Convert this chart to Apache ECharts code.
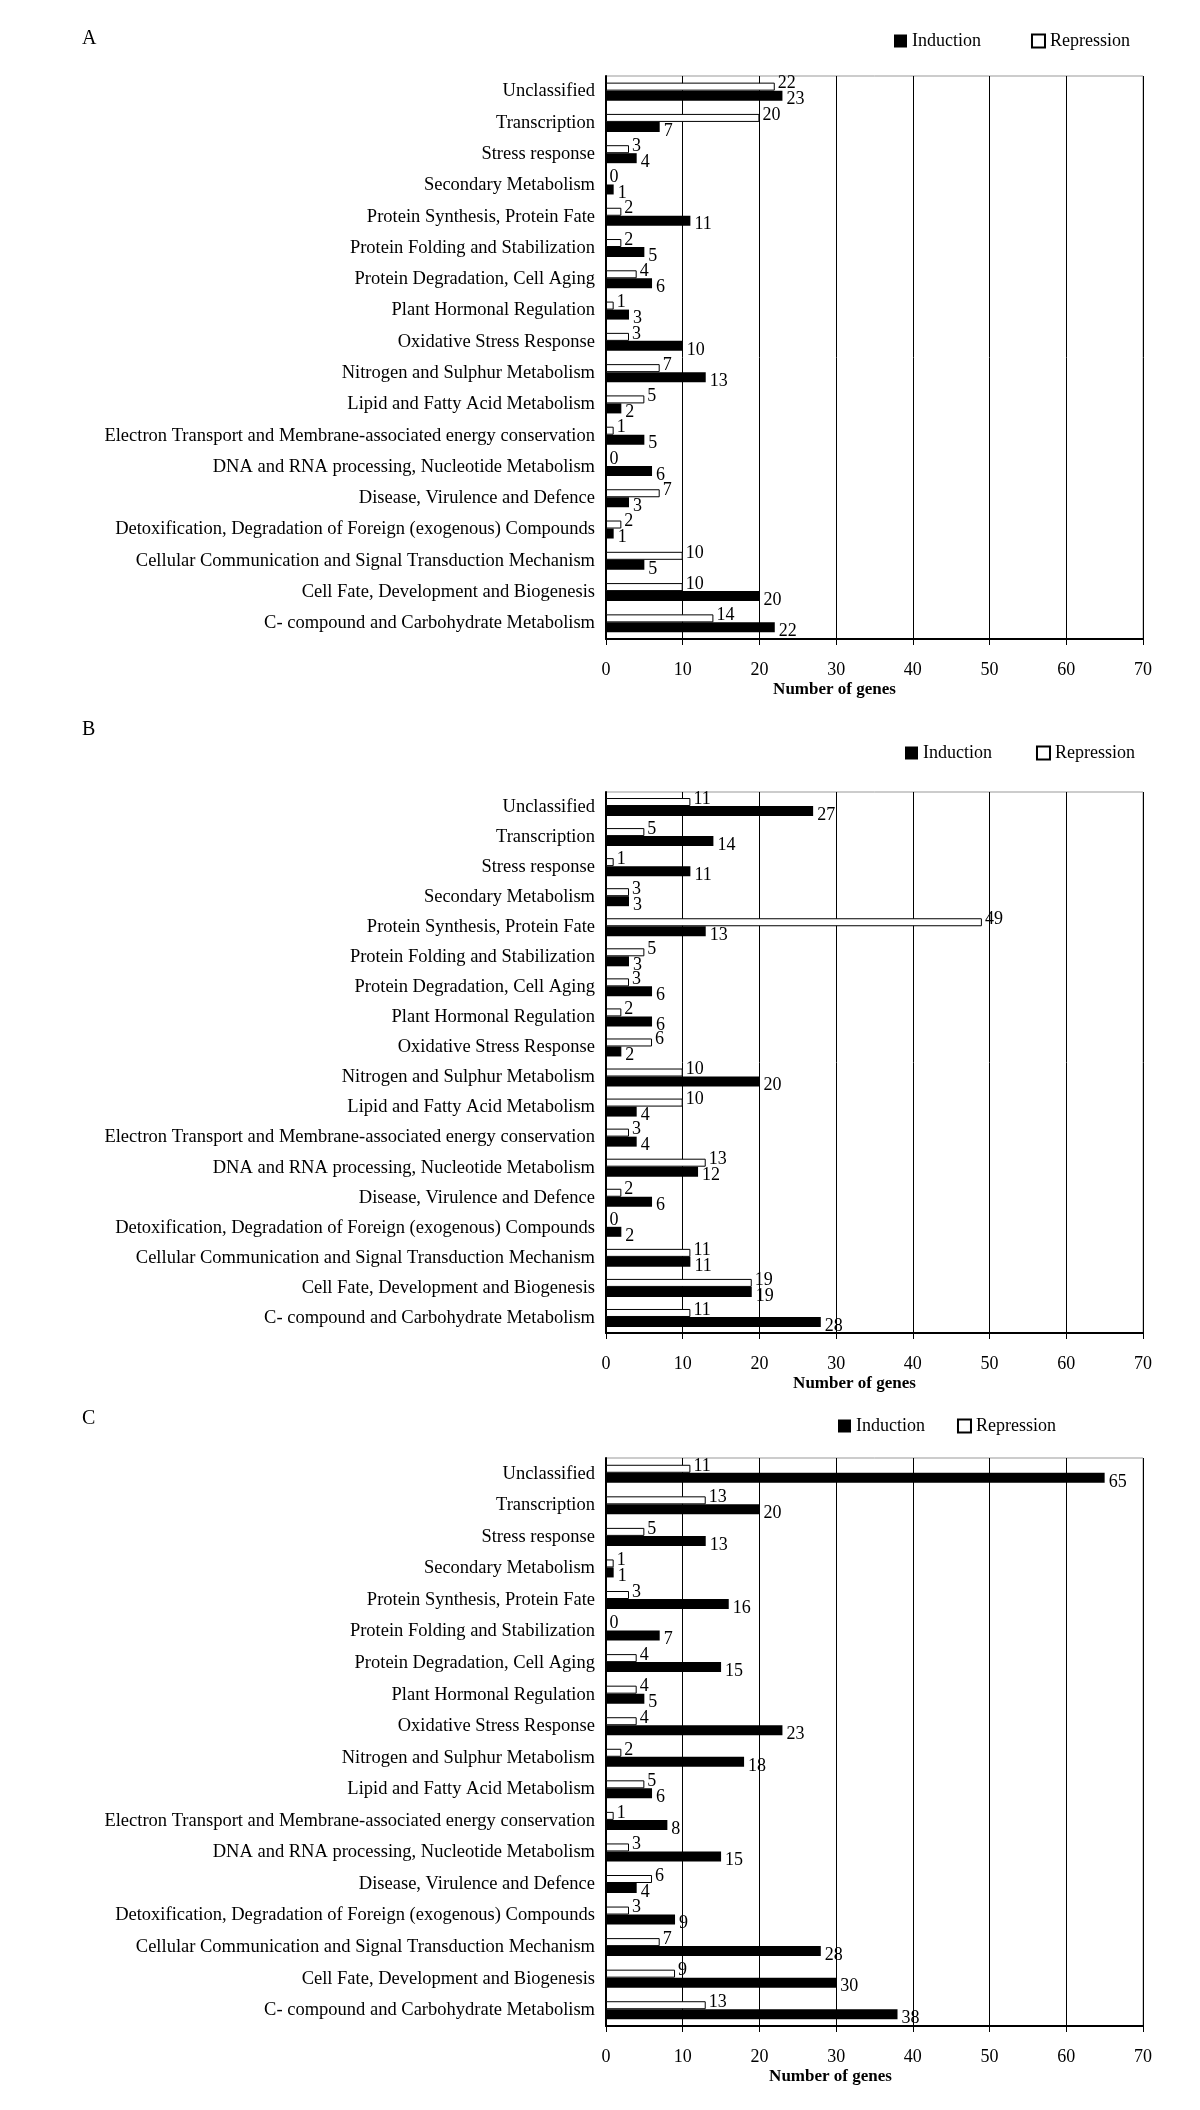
<!DOCTYPE html>
<html lang="en">
  <head>
    <meta charset="UTF-8" />
    <title>Number of genes by functional category</title>
    <script src="https://cdn.jsdelivr.net/npm/echarts@6/dist/echarts.min.js"></script>
    <style>
      * {
        margin: 0;
        padding: 0;
      }
      body {
        background: #fff;
      }
      #chart {
        width: 1200px;
        height: 2110px;
      }
    </style>
  </head>
  <body>
    <div id="chart"></div>
    <script>
      // categories, top to bottom as in the figure
      const categories = [
        "Unclassified",
        "Transcription",
        "Stress response",
        "Secondary Metabolism",
        "Protein Synthesis, Protein Fate",
        "Protein Folding and Stabilization",
        "Protein Degradation, Cell Aging",
        "Plant Hormonal Regulation",
        "Oxidative Stress Response",
        "Nitrogen and Sulphur Metabolism",
        "Lipid and Fatty Acid Metabolism",
        "Electron Transport and Membrane-associated energy conservation",
        "DNA and RNA processing, Nucleotide Metabolism",
        "Disease, Virulence and Defence",
        "Detoxification, Degradation of Foreign (exogenous) Compounds",
        "Cellular Communication and Signal Transduction Mechanism",
        "Cell Fate, Development and Biogenesis",
        "C- compound and Carbohydrate Metabolism",
      ];

      const inductionA = [23, 7, 4, 1, 11, 5, 6, 3, 10, 13, 2, 5, 6, 3, 1, 5, 20, 22];
      const repressionA = [22, 20, 3, 0, 2, 2, 4, 1, 3, 7, 5, 1, 0, 7, 2, 10, 10, 14];

      const inductionB = [27, 14, 11, 3, 13, 3, 6, 6, 2, 20, 4, 4, 12, 6, 2, 11, 19, 28];
      const repressionB = [11, 5, 1, 3, 49, 5, 3, 2, 6, 10, 10, 3, 13, 2, 0, 11, 19, 11];

      const inductionC = [65, 20, 13, 1, 16, 7, 15, 5, 23, 18, 6, 8, 15, 4, 9, 28, 30, 38];
      const repressionC = [11, 13, 5, 1, 3, 0, 4, 4, 4, 2, 5, 1, 3, 6, 3, 7, 9, 13];

      const panelNames = ["A", "B", "C"];
      const xTicks = [0, 70, 10]; // min, max, interval

      const FONT = "Liberation Serif";

      // panel layout: grid box, legend spot, letter spot, axis-name shift
      const panels = [
        { top: 76, height: 563, letterTop: 29, legendLeft: 894, legendTop: 32, legendGap: 50, nameShift: 80 },
        { top: 792, height: 541, letterTop: 720, legendLeft: 905, legendTop: 744, legendGap: 44, nameShift: 40 },
        { top: 1458, height: 568, letterTop: 1409, legendLeft: 838, legendTop: 1417, legendGap: 32, nameShift: 88 },
      ];
      const data = [
        [inductionA, repressionA],
        [inductionB, repressionB],
        [inductionC, repressionC],
      ];

      const chart = echarts.init(document.getElementById("chart"));

      const option = {
        animation: false,
        backgroundColor: "#fff",
        title: panels.map((p, i) => ({
          text: panelNames[i],
          left: 82,
          top: p.letterTop,
          padding: 0,
          textStyle: { fontFamily: FONT, fontSize: 20, fontWeight: "normal", color: "#000" },
        })),
        legend: panels.map((p) => ({
          data: ["Induction", "Repression"],
          left: p.legendLeft,
          top: p.legendTop,
          itemGap: p.legendGap,
          itemWidth: 13,
          itemHeight: 13,
          padding: 0,
          icon: "rect",
          textStyle: { fontFamily: FONT, fontSize: 18, color: "#000" },
        })),
        grid: panels.map((p) => ({
          left: 606,
          right: 57,
          top: p.top,
          height: p.height,
          show: true,
          borderColor: "#999",
          borderWidth: 1,
        })),
        xAxis: panels.map((p, i) => ({
          type: "value",
          gridIndex: i,
          min: xTicks[0],
          max: xTicks[1],
          interval: xTicks[2],
          name: "Number of genes",
          nameLocation: "middle",
          nameGap: 42,
          nameTextStyle: {
            fontFamily: FONT,
            fontSize: 17,
            fontWeight: "bold",
            color: "#000",
            padding: [0, p.nameShift, 0, 0],
          },
          axisLine: { show: true, lineStyle: { color: "#000", width: 2 } },
          axisTick: { show: true, length: 6, lineStyle: { color: "#000" } },
          axisLabel: { fontFamily: FONT, fontSize: 18, color: "#000", margin: 22 },
          splitLine: { show: true, lineStyle: { color: "#000", width: 1 } },
        })),
        yAxis: panels.map((p, i) => ({
          type: "category",
          gridIndex: i,
          inverse: true,
          data: categories,
          axisLine: { show: true, lineStyle: { color: "#000", width: 2 } },
          axisTick: { show: false },
          axisLabel: { fontFamily: FONT, fontSize: 18.5, color: "#000", margin: 11 },
        })),
        series: [],
      };

      data.forEach(([ind, rep], i) => {
        option.series.push({
          name: "Repression",
          type: "bar",
          xAxisIndex: i,
          yAxisIndex: i,
          barWidth: 8,
          barGap: "0%",
          itemStyle: { color: "#fff", borderColor: "#000", borderWidth: 1 },
          label: {
            show: true,
            position: "right",
            distance: 3,
            offset: [0, -3],
            fontFamily: FONT,
            fontSize: 18,
            color: "#000",
          },
          data: rep,
        });
        option.series.push({
          name: "Induction",
          type: "bar",
          xAxisIndex: i,
          yAxisIndex: i,
          barWidth: 10,
          barGap: "0%",
          itemStyle: { color: "#000" },
          label: {
            show: true,
            position: "right",
            distance: 4,
            offset: [0, 4],
            fontFamily: FONT,
            fontSize: 18,
            color: "#000",
          },
          data: ind,
        });
      });

      chart.setOption(option);
    </script>
  </body>
</html>
